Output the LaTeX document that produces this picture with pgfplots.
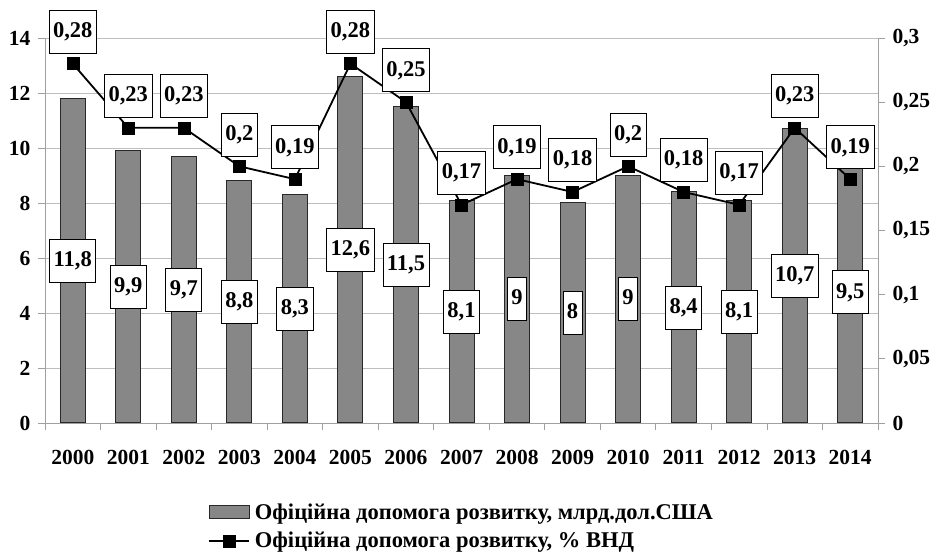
\documentclass[border=0pt]{standalone}
\usepackage{pgfplots}
\pgfplotsset{compat=1.18}
\usepackage{pgfplotstable}
\usepackage{fontspec}
\setmainfont{Liberation Serif}
\definecolor{barfill}{RGB}{135,135,135}
\definecolor{bardraw}{RGB}{40,40,40}
\definecolor{axgray}{RGB}{160,160,160}
\definecolor{gridgray}{RGB}{190,190,190}
\newcommand\tf{\fontsize{21.5}{25}\selectfont\bfseries}
\newcommand\nf{\fontsize{22.5}{26}\selectfont\bfseries}
\newcommand\lf{\fontsize{22.5}{26}\selectfont\bfseries}

\pgfplotstableread{
x  v    lab
0  11.8 11,8
1  9.9  9,9
2  9.7  9,7
3  8.8  8,8
4  8.3  8,3
5  12.6 12,6
6  11.5 11,5
7  8.1  8,1
8  9    9
9  8    8
10 9    9
11 8.4  8,4
12 8.1  8,1
13 10.7 10,7
14 9.5  9,5
}\bartab

\pgfplotstableread{
x  p    lab
0  0.28 0,28
1  0.23 0,23
2  0.23 0,23
3  0.20 0,2
4  0.19 0,19
5  0.28 0,28
6  0.25 0,25
7  0.17 0,17
8  0.19 0,19
9  0.18 0,18
10 0.20 0,2
11 0.18 0,18
12 0.17 0,17
13 0.23 0,23
14 0.19 0,19
}\pcttab

\begin{document}
\begin{tikzpicture}
\path[use as bounding box] (-45pt,-133pt) rectangle (886pt,423pt);
\begin{axis}[
  at={(0pt,0pt)}, anchor=south west,
  width=833pt, height=385pt, scale only axis,
  clip=false,
  xmin=-0.5, xmax=14.5, ymin=0, ymax=14,
  axis x line*=bottom, axis y line*=left,
  axis line style={draw=axgray, line width=0.8pt, -},
  xtick={0,...,14},
  xticklabels={2000,2001,2002,2003,2004,2005,2006,2007,2008,2009,2010,2011,2012,2013,2014},
  minor xtick={-0.5,0.5,1.5,2.5,3.5,4.5,5.5,6.5,7.5,8.5,9.5,10.5,11.5,12.5,13.5,14.5},
  ytick={0,2,...,14},
  tick align=outside,
  major tick length=7pt, minor tick length=7pt,
  major x tick style={draw=none},
  minor x tick style={draw=axgray, line width=0.8pt},
  major y tick style={draw=axgray, line width=0.8pt},
  ymajorgrids, major grid style={draw=gridgray, line width=0.8pt},
  ticklabel style={font=\tf},
  /pgf/number format/assume math mode=true,
  xticklabel style={yshift=-17pt},
  yticklabel style={xshift=-4pt},
]
\addplot[ybar, bar width=25pt, fill=barfill, draw=bardraw, line width=1pt] table[x=x, y=v] {\bartab};
\addplot[draw=none, mark=none, nodes near coords, point meta=explicit symbolic,
  every node near coord/.append style={anchor=center, draw=black, fill=white, line width=0.8pt,
    font=\nf, inner xsep=4pt, text height=16pt, text depth=4.5pt, minimum height=43pt}]
  table[x=x, y expr=\thisrow{v}/2, meta=lab] {\bartab};
\end{axis}
\begin{axis}[
  at={(0pt,0pt)}, anchor=south west,
  width=833pt, height=385pt, scale only axis,
  clip=false,
  xmin=-0.5, xmax=14.5, ymin=0, ymax=0.3,
  axis x line=none, axis y line*=right,
  axis line style={draw=axgray, line width=0.8pt, -},
  ytick={0,0.05,0.1,0.15,0.2,0.25,0.3},
  tick align=outside, major tick length=7pt,
  major y tick style={draw=axgray, line width=0.8pt},
  ticklabel style={font=\tf},
  /pgf/number format/assume math mode=true,
  yticklabel style={/pgf/number format/.cd, use comma, fixed, precision=2, /tikz/.cd, xshift=4pt},
  legend style={at={(0.5,-0.2)}, anchor=north, draw=none, font=\lf, row sep=7pt,
    /tikz/every odd column/.append style={column sep=3pt}},
  legend cell align=left,
]
\addlegendimage{legend image code/.code={\draw[fill=barfill, draw=bardraw, line width=0.8pt] (0pt,-6pt) rectangle (40pt,7pt);}}
\addlegendentry{Офіційна допомога розвитку, млрд.дол.США}
\addplot[black, line width=1.8pt, mark=square*, mark size=6pt, mark options={fill=black, solid, line width=0.5pt},
  legend image code/.code={\draw[black, line width=1.8pt, mark=square*, mark size=6pt, mark options={fill=black, line width=0.5pt}, mark repeat=2, mark phase=2] plot coordinates {(0pt,0pt) (20pt,0pt) (40pt,0pt)};},
  nodes near coords, point meta=explicit symbolic,
  every node near coord/.append style={anchor=south, yshift=10pt, draw=black, fill=white, line width=0.8pt,
    font=\nf, inner xsep=4pt, text height=16pt, text depth=4.5pt, minimum height=43pt}]
  table[x=x, y=p, meta=lab] {\pcttab};
\addlegendentry{Офіційна допомога розвитку, \% ВНД}
\end{axis}
\end{tikzpicture}
\end{document}
